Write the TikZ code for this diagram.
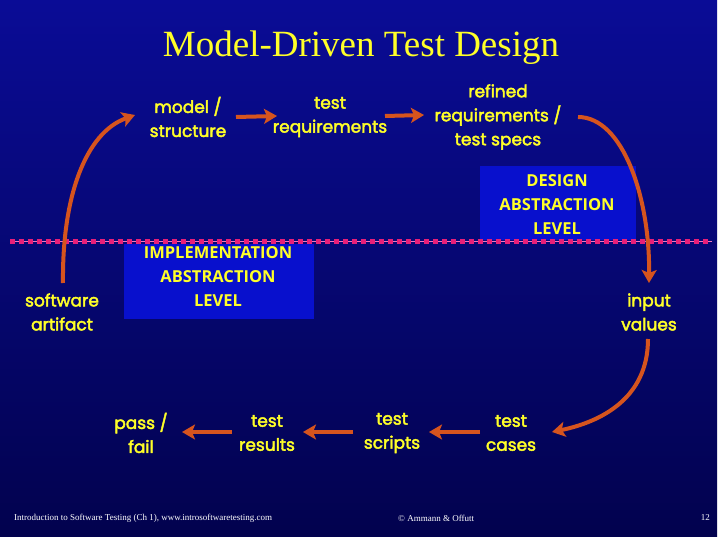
\documentclass[tikz,border=0pt]{standalone}
\usepackage{fontspec}
\setmainfont{Liberation Serif}
\newfontfamily\comicf{Poppins}[FakeBold=2.5]
\newfontfamily\levelf{Open Sans}
\usetikzlibrary{arrows.meta}
\definecolor{bgtop}{RGB}{10,12,150}
\definecolor{bgbot}{RGB}{2,2,78}
\definecolor{boxblue}{RGB}{8,16,205}
\definecolor{txtyellow}{RGB}{255,255,40}
\definecolor{arroworange}{RGB}{214,84,30}
\definecolor{dashmag}{RGB}{232,30,120}
\definecolor{dashpink}{RGB}{240,120,190}
\tikzset{
  lbl/.style={text=txtyellow, font=\comicf\fontsize{17}{24}\selectfont, align=center, inner sep=2pt},
  lvl/.style={text=txtyellow, font=\levelf\bfseries\fontsize{16.5}{24}\selectfont, align=center},
  lvlbox/.style={fill=boxblue, draw=none},
  flow/.style={draw=arroworange, line width=4pt, -{Stealth[length=13pt,width=15pt,inset=3pt]}},
  foot/.style={text=white, font=\fontsize{9}{10}\selectfont, inner sep=0pt}
}
\begin{document}
\begin{tikzpicture}[x=1pt,y=-1pt]
\useasboundingbox (0,0) rectangle (720,540);
\fill[white] (0,0) rectangle (720,540);
\shade[top color=bgtop, bottom color=bgbot] (0,0) rectangle (717,536);
% level boxes
\node[lvlbox, minimum width=156pt, minimum height=74pt] (dbox) at (558,203) {};
\node[lvlbox, minimum width=190pt, minimum height=75pt] (ibox) at (219,281) {};
\node[lvl] (dtxt) at (557,205) {DESIGN\\ABSTRACTION\\LEVEL};
\node[lvl] (itxt) at (218,277) {IMPLEMENTATION\\ABSTRACTION\\LEVEL};
% dashed separator
\coordinate (dl) at (10,241);
\coordinate (dr) at (712,241);
\draw[dashpink, line width=1pt] (dl) -- (dr);
\draw[dashmag, line width=5pt, dash pattern=on 4.5pt off 4.5pt] (dl) -- (dr);
% title
\node[text=txtyellow, font=\fontsize{37}{40}\selectfont] (title) at (361,48) {Model-Driven Test Design};
% labels
\node[lbl] (ms) at (188,117) {model /\\structure};
\node[lbl] (tr) at (330,117) {test\\requirements};
\node[lbl] (rr) at (498,117) {refined\\requirements /\\test specs};
\node[lbl] (sa) at (62,312) {software\\artifact};
\node[lbl] (iv) at (649,312) {input\\values};
\node[lbl] (pf) at (141,433) {pass /\\fail};
\node[lbl] (res) at (267,433) {test\\results};
\node[lbl] (scr) at (392,433) {test\\scripts};
\node[lbl] (tc) at (511,433) {test\\cases};
% arrows
\draw[flow] ([shift={(48,0)}]ms.center) -- ([shift={(-53,-1)}]tr.center);
\draw[flow] ([shift={(55,-1)}]tr.center) -- ([shift={(-74,-2)}]rr.center);
\draw[flow] ([shift={(80,0)}]rr.center) .. controls +(45,0) and +(1,-85) .. ([shift={(0,-29)}]iv.center);
\draw[flow] ([shift={(1,-29)}]sa.center) .. controls +(-1,-85) and +(-50,18) .. ([shift={(-53,-2)}]ms.center);
\draw[flow] ([shift={(-1,27)}]iv.center) .. controls +(0,60) and +(48,-10) .. ([shift={(41,-1)}]tc.center);
\draw[flow] ([shift={(-31,-1)}]tc.center) -- ([shift={(37,-1)}]scr.center);
\draw[flow] ([shift={(-39,-1)}]scr.center) -- ([shift={(36,-1)}]res.center);
\draw[flow] ([shift={(-35,-1)}]res.center) -- ([shift={(41,-1)}]pf.center);
% footer
\node[foot, anchor=west] (f1) at (14,518) {Introduction to Software Testing (Ch 1), www.introsoftwaretesting.com};
\node[foot, anchor=west] (f2) at (398,518) {\textcopyright{} Ammann \& Offutt};
\node[foot, anchor=east] (f3) at (710,518) {12};
\end{tikzpicture}
\end{document}
